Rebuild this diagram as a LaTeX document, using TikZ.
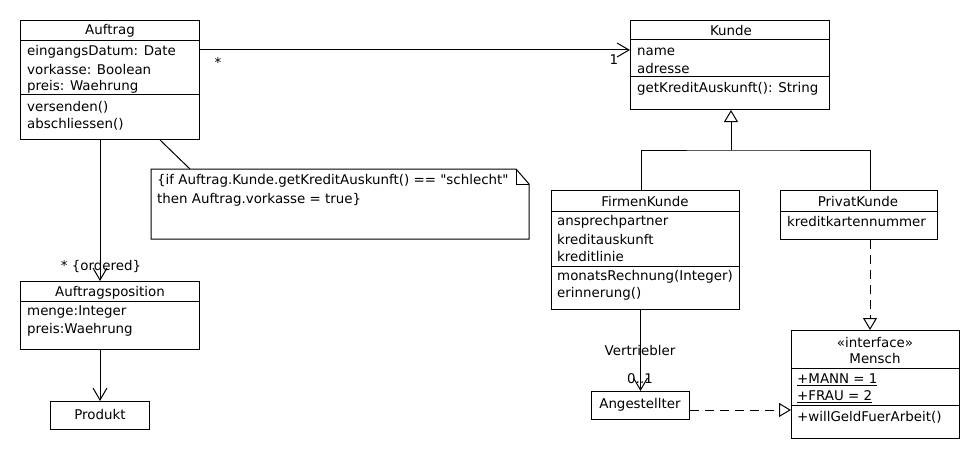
\documentclass[tikz,border=0pt]{standalone}
\usepackage{fontspec}
\setmainfont{DejaVu Sans}
\newcommand\dquote{\XeTeXglyph\XeTeXcharglyph"22\relax}
\usetikzlibrary{arrows.meta}
\tikzset{
  cls/.style={draw, line width=1pt, rectangle, inner sep=0pt, anchor=north west},
  txt/.style={inner sep=0pt, anchor=west, font=\fontsize{13.4}{15}\selectfont},
  ttl/.style={inner sep=0pt, anchor=center, font=\fontsize{13.4}{15}\selectfont},
  sep/.style={line width=1pt},
  assoc/.style={line width=1pt, -{Straight Barb[length=12pt,width=14pt,line width=1pt]}},
  plain/.style={line width=1pt},
  gen/.style={line width=1pt, -{Triangle[open,length=12pt,width=14pt,line width=1pt,fill=white]}},
  real/.style={line width=1pt, dash pattern=on 9pt off 6pt, -{Triangle[open,length=12pt,width=14pt,line width=1pt,fill=white]}},
}
\begin{document}
\begin{tikzpicture}[x=1pt,y=-1pt]
\useasboundingbox[fill=white] (0,0) rectangle (980,460);

% Auftrag
\node[cls, minimum width=179pt, minimum height=119pt] (auftrag) at (20,20) {};
\draw[sep] (20,41) -- (199,41);
\draw[sep] (20,94) -- (199,94);
\node[ttl] (auftragT) at (110,31) {Auftrag};
\node[txt] (a1) at (27,52) {eingangsDatum: Date};
\node[txt] (a2) at (27,70) {vorkasse: Boolean};
\node[txt] (a3) at (27,87) {preis: Waehrung};
\node[txt] (a4) at (27,107) {versenden()};
\node[txt] (a5) at (27,124) {abschliessen()};

% Kunde
\node[cls, minimum width=199pt, minimum height=89pt] (kunde) at (630,20) {};
\draw[sep] (630,40) -- (829,40);
\draw[sep] (630,77) -- (829,77);
\node[ttl] (kundeT) at (731,31) {Kunde};
\node[txt] (k1) at (637,52) {name};
\node[txt] (k2) at (637,69) {adresse};
\node[txt] (k3) at (637,89) {getKreditAuskunft(): String};

% Note
\node[inner sep=0pt, minimum width=378pt, minimum height=70pt, anchor=north west] (note) at (151,169) {};
\draw[plain] (151,169) -- (516,169) -- (529,184) -- (529,239) -- (151,239) -- cycle;
\draw[plain] (516,169) -- (516,184) -- (529,184);
\node[txt] (n1) at (157,181) {\{if Auftrag.Kunde.getKreditAuskunft() == \dquote schlecht\dquote};
\node[txt] (n2) at (157,200) {then Auftrag.vorkasse = true\}};

% FirmenKunde
\node[cls, minimum width=188pt, minimum height=119pt] (fk) at (551,190) {};
\draw[sep] (551,211) -- (739,211);
\draw[sep] (551,266) -- (739,266);
\node[ttl] (fkT) at (645,202) {FirmenKunde};
\node[txt] (f1) at (557,222) {ansprechpartner};
\node[txt] (f2) at (557,240) {kreditauskunft};
\node[txt] (f3) at (557,257) {kreditlinie};
\node[txt] (f4) at (557,277) {monatsRechnung(Integer)};
\node[txt] (f5) at (557,294) {erinnerung()};

% PrivatKunde
\node[cls, minimum width=157pt, minimum height=49pt] (pk) at (780,190) {};
\draw[sep] (780,211) -- (937,211);
\node[ttl] (pkT) at (858,202) {PrivatKunde};
\node[txt] (p1) at (787,222) {kreditkartennummer};

% Mensch
\node[cls, minimum width=168pt, minimum height=108pt] (mensch) at (791,330) {};
\draw[sep] (791,368) -- (959,368);
\draw[sep] (791,405) -- (959,405);
\node[ttl] (mS) at (875,343) {«interface»};
\node[ttl] (mT) at (875,359) {Mensch};
\node[txt] (m1) at (797,380) {\underline{+MANN = 1}};
\node[txt] (m2) at (797,397) {\underline{+FRAU = 2}};
\node[txt] (m3) at (797,417) {+willGeldFuerArbeit()};

% Angestellter
\node[cls, minimum width=98pt, minimum height=28pt] (ang) at (591,391) {};
\node[ttl] (angT) at (640,405) {Angestellter};

% Auftragsposition
\node[cls, minimum width=179pt, minimum height=68pt] (apos) at (20,281) {};
\draw[sep] (20,301) -- (199,301);
\node[ttl] (aposT) at (110,293) {Auftragsposition};
\node[txt] (ap1) at (27,312) {menge:Integer};
\node[txt] (ap2) at (27,330) {preis:Waehrung};

% Produkt
\node[cls, minimum width=99pt, minimum height=28pt] (prod) at (50,401) {};
\node[ttl] (prodT) at (100,415) {Produkt};

% Connectors
\draw[assoc] (auftrag.east |- 0,50) -- (kunde.west |- 0,50);
\node[ttl] (lstar) at (218,63) {*};
\node[ttl] (lone) at (614,60) {1};

\draw[plain] (auftrag.south -| 160,0) -- (note.north west -| 190,0);

\draw[assoc] (auftrag.south -| 100,0) -- (apos.north -| 100,0);
\node[ttl] (lord) at (101,266) {* \{ordered\}};

\draw[assoc] (apos.south -| prod.north) -- (prod.north);

\coordinate (j) at (731,150);
\draw[gen] (j) -- (kunde.south -| j);
\draw[plain] ([xshift=-4pt]fk.north) |- (j) -| (pk.north -| 870,0);

\draw[assoc] (ang.north |- fk.south) -- (ang.north);
\node[ttl] (lv) at (640,351) {Vertriebler};
\node[ttl] (lm) at (640,379) {0..1};

\draw[real] (pk.south -| 870,0) -- (mensch.north -| 870,0);
\draw[real] (ang.east |- 0,410) -- (mensch.west |- 0,410);
\end{tikzpicture}
\end{document}
